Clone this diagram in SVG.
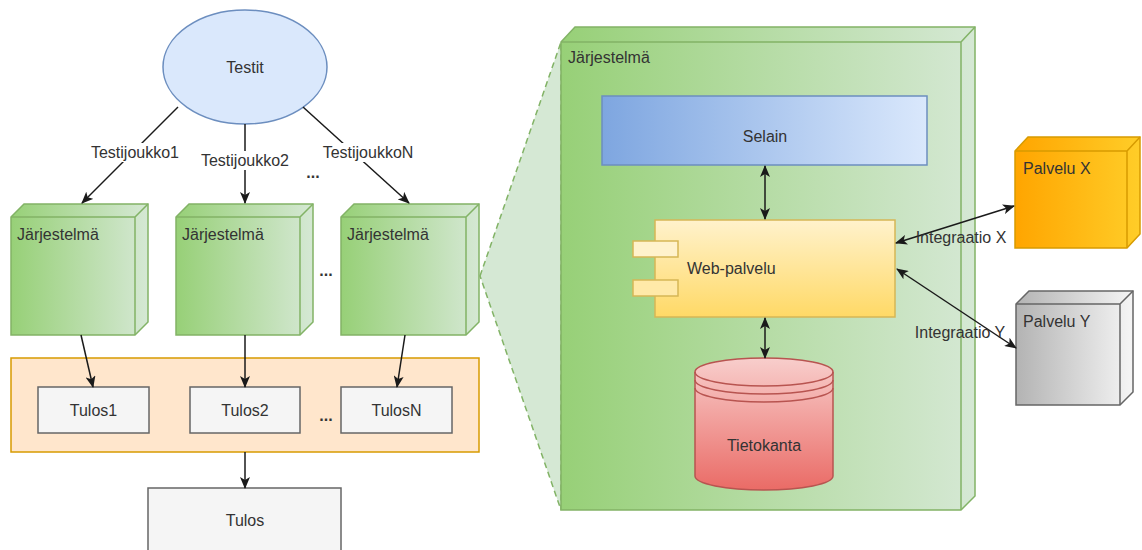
<svg xmlns="http://www.w3.org/2000/svg" width="1142" height="550" viewBox="0 0 1142 550">
<style>
text{font-family:"Liberation Sans",Arial,sans-serif;font-size:16px;fill:#333}
.c{text-anchor:middle}
.ln{stroke:#1a1a1a;stroke-width:1.5;fill:none}
.grn{stroke:#82b366;stroke-width:1.5}
.box{fill:#f5f5f5;stroke:#666;stroke-width:1.5}
.dots{font-weight:bold}
</style>
<defs>
<linearGradient id="gG" x1="0" y1="0" x2="1" y2="0"><stop offset="0" stop-color="#97d077"/><stop offset="1" stop-color="#d5e8d4"/></linearGradient>
<linearGradient id="gB" x1="0" y1="0" x2="1" y2="0"><stop offset="0" stop-color="#7ea6e0"/><stop offset="1" stop-color="#dae8fc"/></linearGradient>
<linearGradient id="gY" x1="0" y1="0" x2="0" y2="1"><stop offset="0" stop-color="#fff2cc"/><stop offset="1" stop-color="#ffd966"/></linearGradient>
<linearGradient id="gR" x1="0" y1="0" x2="0" y2="1"><stop offset="0" stop-color="#f8cecc"/><stop offset="1" stop-color="#ea6b66"/></linearGradient>
<linearGradient id="gO" x1="0" y1="0" x2="1" y2="0"><stop offset="0" stop-color="#ffa500"/><stop offset="1" stop-color="#ffcd28"/></linearGradient>
<linearGradient id="gS" x1="0" y1="0" x2="1" y2="0"><stop offset="0" stop-color="#b3b3b3"/><stop offset="1" stop-color="#f5f5f5"/></linearGradient>
<marker id="ah" viewBox="0 0 12 10" refX="11" refY="5" markerWidth="12" markerHeight="10" markerUnits="userSpaceOnUse" orient="auto-start-reverse">
<path d="M0,0 L12,5 L0,10 L3,5 Z" fill="#1a1a1a"/>
</marker>
</defs>

<!-- zoom region -->
<g id="zoom">
<polygon points="480,276 561,42 561,510" fill="#d5e8d4" stroke="#82b366" stroke-width="1.5" stroke-dasharray="6,4"/>
</g>

<g id="testit">
<ellipse cx="245" cy="67" rx="82" ry="57" fill="#dae8fc" stroke="#6c8ebf" stroke-width="1.5"/>
<text class="c" x="245" y="73">Testit</text>
</g>

<g id="cube1">
<path d="M11,217 L24,204 L148,204 L148,322 L135,335 L11,335 Z" fill="url(#gG)" class="grn"/>
<path d="M11,217 L135,217 L148,204 M135,217 L135,335" fill="none" class="grn"/>
<text x="17" y="240">Järjestelmä</text>
</g>
<g id="cube2">
<path d="M176,217 L189,204 L313,204 L313,322 L300,335 L176,335 Z" fill="url(#gG)" class="grn"/>
<path d="M176,217 L300,217 L313,204 M300,217 L300,335" fill="none" class="grn"/>
<text x="182" y="240">Järjestelmä</text>
</g>
<g id="cube3">
<path d="M341,217 L354,204 L479,204 L479,322 L466,335 L341,335 Z" fill="url(#gG)" class="grn"/>
<path d="M341,217 L466,217 L479,204 M466,217 L466,335" fill="none" class="grn"/>
<text x="347" y="240">Järjestelmä</text>
</g>

<g id="results">
<rect x="11" y="358" width="468" height="94" fill="#ffe6cc" stroke="#d79b00" stroke-width="1.5"/>
</g>
<g id="tulos1"><rect class="box" x="38" y="387" width="111" height="46"/><text class="c" x="93.5" y="416">Tulos1</text></g>
<g id="tulos2"><rect class="box" x="190" y="387" width="110" height="46"/><text class="c" x="245" y="416">Tulos2</text></g>
<g id="tulosN"><rect class="box" x="341" y="387" width="111" height="46"/><text class="c" x="396.5" y="416">TulosN</text></g>
<g id="tulos"><rect class="box" x="148" y="488" width="193" height="70"/><text class="c" x="245" y="526">Tulos</text></g>

<g id="bigcube">
<path d="M561,42 L575,27 L975,27 L975,496 L961,510 L561,510 Z" fill="url(#gG)" class="grn"/>
<path d="M561,42 L961,42 L975,27 M961,42 L961,510" fill="none" class="grn"/>
<text x="568" y="63">Järjestelmä</text>
</g>

<g id="selain">
<rect x="602" y="96" width="325" height="69" fill="url(#gB)" stroke="#6c8ebf" stroke-width="1.5"/>
<text class="c" x="765" y="142">Selain</text>
</g>

<g id="webpalvelu">
<rect x="655" y="220" width="240" height="97" fill="url(#gY)" stroke="#d6b656" stroke-width="1.5"/>
<rect x="633" y="241" width="45" height="16" fill="#fff2cc" stroke="#d6b656" stroke-width="1.5"/>
<rect x="633" y="280" width="45" height="16" fill="#ffe9a8" stroke="#d6b656" stroke-width="1.5"/>
<text x="687" y="274">Web-palvelu</text>
</g>

<g id="tietokanta">
<path d="M695,372 A69,14 0 0 1 833,372 L833,476 A69,14 0 0 1 695,476 Z" fill="url(#gR)" stroke="#b85450" stroke-width="1.5"/>
<path d="M695,372 A69,14 0 0 0 833,372 M695,380 A69,14 0 0 0 833,380 M695,388 A69,14 0 0 0 833,388" fill="none" stroke="#b85450" stroke-width="1.5"/>
<text class="c" x="764" y="451">Tietokanta</text>
</g>

<g id="palveluX">
<path d="M1015,151 L1028,137 L1140,137 L1140,234 L1127,248 L1015,248 Z" fill="url(#gO)" stroke="#d79b00" stroke-width="1.5"/>
<path d="M1015,151 L1127,151 L1140,137 M1127,151 L1127,248" fill="none" stroke="#d79b00" stroke-width="1.5"/>
<text x="1023" y="174">Palvelu X</text>
</g>

<g id="palveluY">
<path d="M1016,304 L1029,291 L1133,291 L1133,392 L1120,405 L1016,405 Z" fill="url(#gS)" stroke="#666" stroke-width="1.5"/>
<path d="M1016,304 L1120,304 L1133,291 M1120,304 L1120,405" fill="none" stroke="#666" stroke-width="1.5"/>
<text x="1023" y="327">Palvelu Y</text>
</g>

<g id="connectors">
<line class="ln" x1="178" y1="107" x2="82" y2="203" marker-end="url(#ah)"/>
<line class="ln" x1="245" y1="124" x2="245" y2="203" marker-end="url(#ah)"/>
<line class="ln" x1="303" y1="107" x2="409" y2="203" marker-end="url(#ah)"/>
<rect x="88" y="143" width="94" height="19" fill="#fff"/>
<rect x="198" y="151" width="96" height="19" fill="#fff"/>
<rect x="320" y="143" width="96" height="19" fill="#fff"/>
<text class="c" x="135" y="158">Testijoukko1</text>
<text class="c" x="245" y="166">Testijoukko2</text>
<text class="c" x="368" y="158">TestijoukkoN</text>
<text class="c dots" x="313" y="178">...</text>
<text class="c dots" x="326" y="276">...</text>
<text class="c dots" x="326" y="421">...</text>

<line class="ln" x1="81" y1="335" x2="93" y2="387" marker-end="url(#ah)"/>
<line class="ln" x1="245" y1="335" x2="245" y2="387" marker-end="url(#ah)"/>
<line class="ln" x1="405" y1="335" x2="397" y2="387" marker-end="url(#ah)"/>
<line class="ln" x1="245" y1="452" x2="245" y2="488" marker-end="url(#ah)"/>

<line class="ln" x1="765" y1="166" x2="765" y2="219" marker-start="url(#ah)" marker-end="url(#ah)"/>
<line class="ln" x1="765" y1="318" x2="765" y2="358" marker-start="url(#ah)" marker-end="url(#ah)"/>

<line class="ln" x1="896" y1="243" x2="1014" y2="206" marker-start="url(#ah)" marker-end="url(#ah)"/>
<line class="ln" x1="897" y1="269" x2="1016" y2="348" marker-start="url(#ah)" marker-end="url(#ah)"/>
<text class="c" x="961" y="243">Integraatio X</text>
<text class="c" x="960" y="338">Integraatio Y</text>
</g>
</svg>
